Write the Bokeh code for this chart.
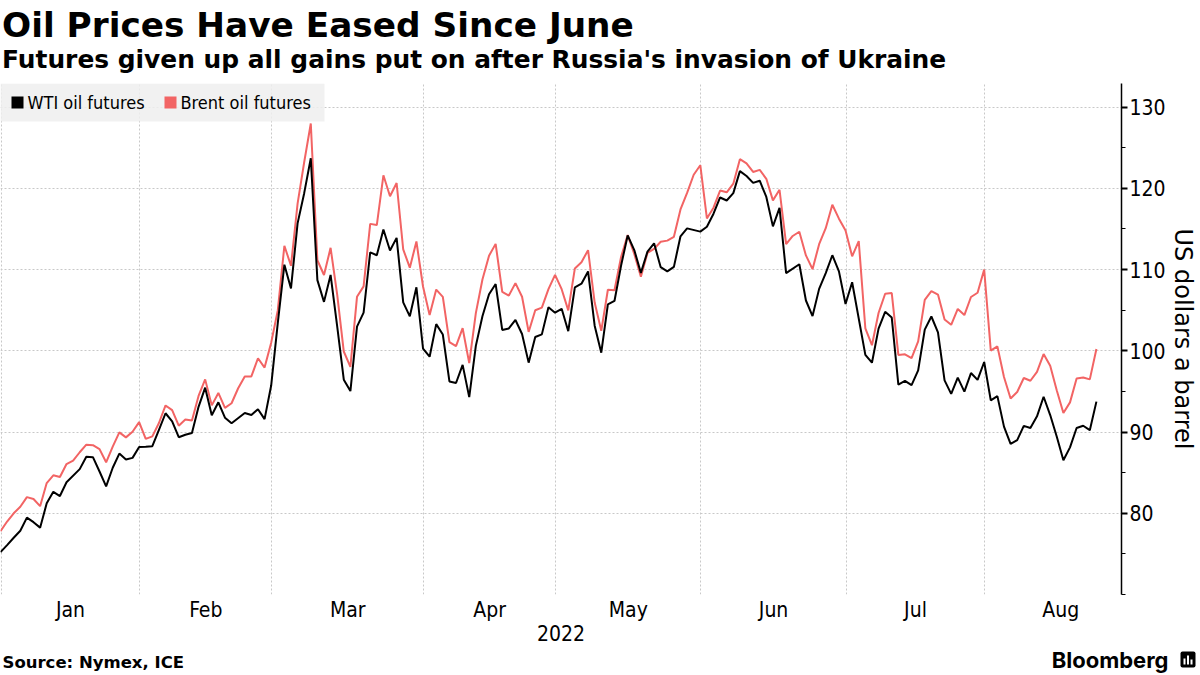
import numpy as np
from bokeh.plotting import figure
from bokeh.layouts import column
from bokeh.models import (Range1d, LinearAxis, FixedTicker, CustomJSTickFormatter,
                          Label, Grid, BoxAnnotation)
from bokeh.embed import file_html
from bokeh.resources import INLINE

# ---------------- data ----------------
title = "Oil Prices Have Eased Since June"
subtitle = "Futures given up all gains put on after Russia's invasion of Ukraine"
source = "Source: Nymex, ICE"
brand = "Bloomberg"
y_label = "US dollars a barrel"
year_label = "2022"
series_names = ["WTI oil futures", "Brent oil futures"]
month_names = ["Jan", "Feb", "Mar", "Apr", "May", "Jun", "Jul", "Aug"]
y_ticks = [80, 90, 100, 110, 120, 130]
y_minor = [70, 75, 85, 95, 105, 115, 125]

dates = [
    "2021-12-31",
    "2022-01-03", "2022-01-04", "2022-01-05", "2022-01-06", "2022-01-07",
    "2022-01-10", "2022-01-11", "2022-01-12", "2022-01-13", "2022-01-14",
    "2022-01-17", "2022-01-18", "2022-01-19", "2022-01-20", "2022-01-21",
    "2022-01-24", "2022-01-25", "2022-01-26", "2022-01-27", "2022-01-28",
    "2022-01-31",
    "2022-02-01", "2022-02-02", "2022-02-03", "2022-02-04",
    "2022-02-07", "2022-02-08", "2022-02-09", "2022-02-10", "2022-02-11",
    "2022-02-14", "2022-02-15", "2022-02-16", "2022-02-17", "2022-02-18",
    "2022-02-21", "2022-02-22", "2022-02-23", "2022-02-24", "2022-02-25",
    "2022-02-28",
    "2022-03-01", "2022-03-02", "2022-03-03", "2022-03-04",
    "2022-03-07", "2022-03-08", "2022-03-09", "2022-03-10", "2022-03-11",
    "2022-03-14", "2022-03-15", "2022-03-16", "2022-03-17", "2022-03-18",
    "2022-03-21", "2022-03-22", "2022-03-23", "2022-03-24", "2022-03-25",
    "2022-03-28", "2022-03-29", "2022-03-30", "2022-03-31",
    "2022-04-01",
    "2022-04-04", "2022-04-05", "2022-04-06", "2022-04-07", "2022-04-08",
    "2022-04-11", "2022-04-12", "2022-04-13", "2022-04-14",
    "2022-04-18", "2022-04-19", "2022-04-20", "2022-04-21", "2022-04-22",
    "2022-04-25", "2022-04-26", "2022-04-27", "2022-04-28", "2022-04-29",
    "2022-05-02", "2022-05-03", "2022-05-04", "2022-05-05", "2022-05-06",
    "2022-05-09", "2022-05-10", "2022-05-11", "2022-05-12", "2022-05-13",
    "2022-05-16", "2022-05-17", "2022-05-18", "2022-05-19", "2022-05-20",
    "2022-05-23", "2022-05-24", "2022-05-25", "2022-05-26", "2022-05-27",
    "2022-05-30", "2022-05-31",
    "2022-06-01", "2022-06-02", "2022-06-03",
    "2022-06-06", "2022-06-07", "2022-06-08", "2022-06-09", "2022-06-10",
    "2022-06-13", "2022-06-14", "2022-06-15", "2022-06-16", "2022-06-17",
    "2022-06-20", "2022-06-21", "2022-06-22", "2022-06-23", "2022-06-24",
    "2022-06-27", "2022-06-28", "2022-06-29", "2022-06-30",
    "2022-07-01",
    "2022-07-04", "2022-07-05", "2022-07-06", "2022-07-07", "2022-07-08",
    "2022-07-11", "2022-07-12", "2022-07-13", "2022-07-14", "2022-07-15",
    "2022-07-18", "2022-07-19", "2022-07-20", "2022-07-21", "2022-07-22",
    "2022-07-25", "2022-07-26", "2022-07-27", "2022-07-28", "2022-07-29",
    "2022-08-01", "2022-08-02", "2022-08-03", "2022-08-04", "2022-08-05",
    "2022-08-08", "2022-08-09", "2022-08-10", "2022-08-11", "2022-08-12",
    "2022-08-15", "2022-08-16", "2022-08-17", "2022-08-18", "2022-08-19",
    "2022-08-22", "2022-08-23",
]

# None = no WTI settlement that day (US holiday)
wti = [
    75.21,
    76.08, 76.99, 77.85, 79.46, 78.90,
    78.23, 81.22, 82.64, 82.12, 83.82,
    None, 85.43, 86.96, 86.90, 85.14,
    83.31, 85.60, 87.35, 86.61, 86.82,
    88.15,
    88.20, 88.26, 90.27, 92.31,
    91.32, 89.36, 89.66, 89.88, 93.10,
    95.46, 92.07, 93.66, 91.76, 91.07,
    None, 92.35, 92.10, 92.81, 91.59,
    95.72,
    103.41, 110.60, 107.67, 115.68,
    119.40, 123.70, 108.70, 106.02, 109.33,
    103.01, 96.44, 95.04, 102.98, 104.70,
    112.12, 111.76, 114.93, 112.34, 113.90,
    105.96, 104.24, 107.82, 100.28,
    99.27,
    103.28, 102.00, 96.23, 96.03, 98.26,
    94.29, 100.60, 104.25, 106.95,
    108.21, 102.56, 102.75, 103.79, 102.07,
    98.54, 101.70, 102.02, 105.36, 104.69,
    105.17, 102.41, 107.81, 108.26, 109.77,
    103.09, 99.76, 105.71, 106.13, 110.49,
    114.20, 112.40, 109.59, 112.21, 113.23,
    110.29, 109.77, 110.33, 114.09, 115.07,
    None, 114.67,
    115.26, 116.87, 118.87,
    118.50, 119.41, 122.11, 121.51, 120.67,
    120.93, 118.93, 115.31, 117.59, 109.56,
    None, 110.65, 106.19, 104.27, 107.62,
    109.57, 111.76, 109.78, 105.76,
    108.43,
    None, 99.50, 98.53, 102.73, 104.79,
    104.09, 95.84, 96.30, 95.78, 97.59,
    102.60, 104.22, 102.26, 96.35, 94.70,
    96.70, 94.98, 97.26, 96.42, 98.62,
    93.89, 94.42, 90.66, 88.54, 89.01,
    90.76, 90.50, 91.93, 94.34, 92.09,
    89.41, 86.53, 88.11, 90.50, 90.77,
    90.23, 93.74,
]

brent = [
    77.78,
    78.98, 80.00, 80.80, 81.99, 81.75,
    80.87, 83.72, 84.67, 84.47, 86.06,
    86.48, 87.51, 88.44, 88.38, 87.89,
    86.27, 88.20, 89.96, 89.34, 90.03,
    91.21,
    89.16, 89.47, 91.11, 93.27,
    92.69, 90.78, 91.55, 91.41, 94.44,
    96.48, 93.28, 94.81, 92.97, 93.54,
    95.39, 96.84, 96.84, 99.08, 97.93,
    100.99,
    104.97, 112.93, 110.46, 118.11,
    123.21, 127.98, 111.14, 109.33, 112.67,
    106.90, 99.91, 98.02, 106.64, 107.93,
    115.62, 115.48, 121.60, 119.03, 120.65,
    112.48, 110.23, 113.45, 107.91,
    104.39,
    107.53, 106.64, 101.07, 100.58, 102.78,
    98.48, 104.64, 108.78, 111.70,
    113.16, 107.25, 106.80, 108.33, 106.65,
    102.32, 104.99, 105.32, 107.59, 109.34,
    107.58, 104.97, 110.14, 110.90, 112.39,
    105.94, 102.46, 107.51, 107.45, 111.55,
    114.24, 111.93, 109.11, 112.04, 112.55,
    113.42, 113.56, 114.03, 117.40, 119.43,
    121.67, 122.84,
    116.29, 117.61, 119.72,
    119.51, 120.57, 123.58, 123.07, 122.01,
    122.27, 121.17, 118.51, 119.81, 113.12,
    114.13, 114.65, 111.74, 110.05, 113.12,
    115.09, 117.98, 116.26, 114.81,
    111.63,
    113.50, 102.77, 100.69, 104.65, 107.02,
    107.10, 99.49, 99.57, 99.10, 101.16,
    106.27, 107.35, 106.92, 103.86, 103.20,
    105.15, 104.40, 106.62, 107.14, 110.01,
    100.03, 100.54, 96.78, 94.12, 94.92,
    96.65, 96.31, 97.40, 99.60, 98.15,
    95.10, 92.34, 93.65, 96.59, 96.72,
    96.48, 100.22,
]

# ---------------- derived positions (trading-day index axis) ----------------
idx = list(range(len(dates)))
wti_x = [i for i, v in zip(idx, wti) if v is not None]
wti_y = [v for v in wti if v is not None]

first_idx = {}
for i, d in enumerate(dates):
    first_idx.setdefault(d[:7], i)
months = [m for m in first_idx if m.startswith(year_label)]
bounds = [first_idx[m] - 0.9 for m in months]
last_m = np.datetime64(months[-1], "M")
n_last = int(np.busday_count(last_m.astype("datetime64[D]"),
                             (last_m + 1).astype("datetime64[D]")))
edges = bounds + [bounds[-1] + n_last]
mids = [(a + b) / 2 for a, b in zip(edges[:-1], edges[1:])]

X0, X1 = 0.0, 169.8
Y0, Y1 = 70.0, 132.9

# ---------------- styling constants ----------------
W = 1200
HEAD_H, MAIN_H, FOOT_H = 80, 565, 30
BT, BB, BL, BR = 3, 51, 0, 79
FH = MAIN_H - BT - BB
TICK_FONT = "DejaVu Sans Condensed"
RED = "#f26464"
GRID = "#c8c8c8"
MID = 0.35  # offset of the em-box middle above the baseline (fraction of font size)


def blank(height):
    f = figure(width=W, height=height, output_backend="svg", toolbar_location=None,
               x_range=Range1d(0, W), y_range=Range1d(height, 0),
               x_axis_location=None, y_axis_location=None,
               min_border=0, outline_line_color=None, frame_align=False,
               background_fill_color="white", border_fill_color="white")
    f.grid.visible = False
    return f


def text(fig, x, baseline, s, size, font="DejaVu Sans", style="normal",
         align="left", color="black"):
    fig.add_layout(Label(x=x, y=baseline - MID * size, text=s,
                         text_font=font, text_font_style=style,
                         text_font_size=f"{size}px", text_color=color,
                         text_baseline="middle", text_align=align))


# ---------------- header ----------------
head = blank(HEAD_H)
text(head, 1.5, 37, title, 34.3, style="bold")
text(head, 1.5, 68, subtitle, 24.9, style="bold")

# ---------------- main chart ----------------
p = figure(width=W, height=MAIN_H, output_backend="svg", toolbar_location=None,
           x_range=Range1d(X0, X1), y_range=Range1d(Y0, Y1),
           x_axis_location=None, y_axis_location=None,
           min_border_left=BL, min_border_right=BR,
           min_border_top=BT, min_border_bottom=BB, frame_align=False,
           outline_line_color=None, background_fill_color="white",
           border_fill_color="white")
p.grid.visible = False

p.add_layout(Grid(dimension=0, ticker=FixedTicker(ticks=bounds),
                  grid_line_color=GRID, grid_line_dash="2 2", grid_line_width=1))
p.add_layout(Grid(dimension=1, ticker=FixedTicker(ticks=y_ticks),
                  grid_line_color=GRID, grid_line_dash="2 2", grid_line_width=1))

r_b = p.line(idx, brent, line_color=RED, line_width=2)
r_w = p.line(wti_x, wti_y, line_color="black", line_width=2)

# legend (top-left of the plot frame), screen units from the frame's bottom-left
LEG_H = 38
p.add_layout(BoxAnnotation(left=0, right=324, top=FH, bottom=FH - LEG_H,
                           left_units="screen", right_units="screen",
                           top_units="screen", bottom_units="screen",
                           fill_color="#efefef", fill_alpha=0.85, line_color=None))
for sx, col, name, tx in [(11, "black", series_names[0], 27),
                          (164, RED, series_names[1], 180)]:
    p.add_layout(BoxAnnotation(left=sx, right=sx + 12, top=FH - 13, bottom=FH - 25,
                               left_units="screen", right_units="screen",
                               top_units="screen", bottom_units="screen",
                               fill_color=col, fill_alpha=1, line_color=None))
    p.add_layout(Label(x=tx, y=FH - 19, x_units="screen", y_units="screen",
                       text=name, text_font=TICK_FONT, text_font_size="18px",
                       text_color="black", text_baseline="middle", text_align="left"))

xaxis = LinearAxis(ticker=FixedTicker(ticks=mids),
                   formatter=CustomJSTickFormatter(args=dict(names=month_names),
                                                   code="return names[index]"),
                   axis_line_color=None, major_tick_line_color=None,
                   minor_tick_line_color=None, major_tick_in=0, major_tick_out=0,
                   minor_tick_in=0, minor_tick_out=0, major_label_standoff=3,
                   major_label_text_font=TICK_FONT,
                   major_label_text_font_size="21px",
                   major_label_text_color="black")
p.add_layout(xaxis, "below")
year_axis = LinearAxis(ticker=FixedTicker(ticks=[(X0 + X1) / 2]),
                       formatter=CustomJSTickFormatter(args=dict(y=year_label),
                                                       code="return y"),
                       axis_line_color=None, major_tick_line_color=None,
                       minor_tick_line_color=None, major_tick_in=0, major_tick_out=0,
                       minor_tick_in=0, minor_tick_out=0, major_label_standoff=0,
                       major_label_text_font=TICK_FONT,
                       major_label_text_font_size="21px",
                       major_label_text_color="black")
p.add_layout(year_axis, "below")

yaxis = LinearAxis(ticker=FixedTicker(ticks=y_ticks, minor_ticks=y_minor),
                   axis_label=y_label,
                   axis_line_color="black", axis_line_width=1.5,
                   major_tick_line_color="black", major_tick_line_width=2,
                   major_tick_in=0, major_tick_out=6,
                   minor_tick_line_color="black", minor_tick_line_width=1.2,
                   minor_tick_in=0, minor_tick_out=4,
                   major_label_standoff=2,
                   major_label_text_font=TICK_FONT,
                   major_label_text_font_size="21px",
                   major_label_text_color="black",
                   axis_label_standoff=0,
                   axis_label_text_font="DejaVu Sans",
                   axis_label_text_font_size="24px",
                   axis_label_text_font_style="normal",
                   axis_label_text_color="black")
p.add_layout(yaxis, "right")

# ---------------- footer ----------------
foot = blank(FOOT_H)
text(foot, 2, 23, source, 16.5, style="bold")
text(foot, 1168, 22, brand, 22, font="Inter", style="bold", align="right")
foot.add_layout(BoxAnnotation(left=1180, right=1195, top=6, bottom=22,
                              fill_color="black", fill_alpha=1, line_color=None,
                              border_radius=2))
for bl, bt in [(1183, 13), (1186.5, 10), (1190, 14)]:
    foot.add_layout(BoxAnnotation(left=bl, right=bl + 2, top=bt, bottom=19,
                                  fill_color="white", fill_alpha=1, line_color=None))

layout = column(head, p, foot, spacing=0)
open("out.html", "w").write(file_html(layout, INLINE))
